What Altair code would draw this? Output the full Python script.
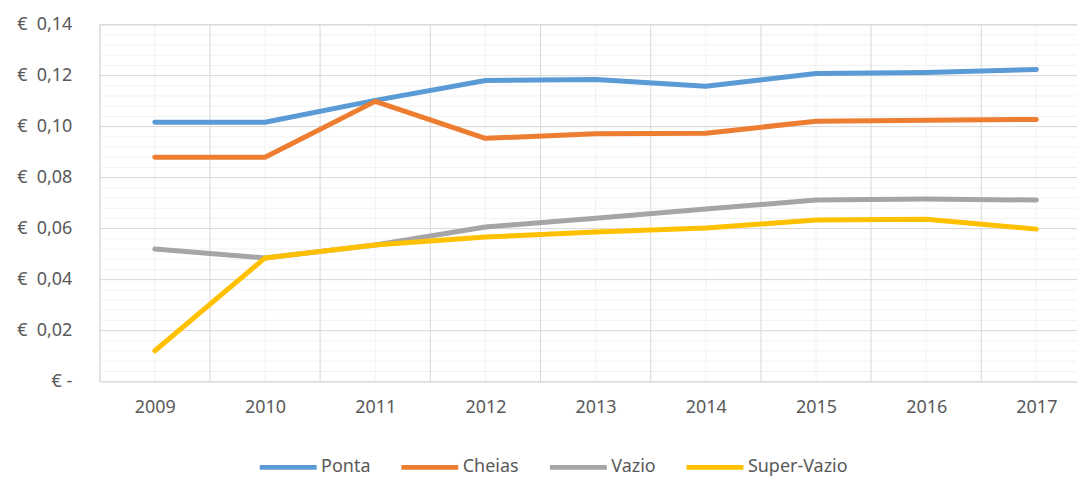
import altair as alt
import pandas as pd

years = [2009, 2010, 2011, 2012, 2013, 2014, 2015, 2016, 2017]
series_names = ["Ponta", "Cheias", "Vazio", "Super-Vazio"]
ponta = [0.1017, 0.1017, 0.1103, 0.1181, 0.1185, 0.1158, 0.1208, 0.1212, 0.1224]
cheias = [0.0880, 0.0880, 0.1099, 0.0954, 0.0972, 0.0974, 0.1021, 0.1025, 0.1028]
vazio = [0.0520, 0.0485, 0.0536, 0.0606, 0.0641, 0.0677, 0.0712, 0.0716, 0.0712]
super_vazio = [0.0121, 0.0485, 0.0536, 0.0567, 0.0587, 0.0602, 0.0634, 0.0637, 0.0598]
colors = ["#5B9BD5", "#ED7D31", "#A5A5A5", "#FFC000"]
y_ticks = [0.0, 0.02, 0.04, 0.06, 0.08, 0.10, 0.12, 0.14]

rows = []
for name, vals in zip(series_names, [ponta, cheias, vazio, super_vazio]):
    for yr, v in zip(years, vals):
        rows.append({"Ano": yr, "Preco": v, "Tarifa": name})
df = pd.DataFrame(rows)

W, H = 980, 358
step = 110.5
x_scale = alt.Scale(domain=[2008.5, 2008.5 + W / step], nice=False, zero=False)
y_scale = alt.Scale(domain=[0, 0.14], nice=False)

minor_y = pd.DataFrame({"v": [round(i * 0.004, 4) for i in range(0, 36)]})
major_y = pd.DataFrame({"v": y_ticks})
minor_x = pd.DataFrame({"v": years})
major_x = pd.DataFrame({"v": [y - 0.5 for y in years]})

FONT = "Noto Sans"
TXT = "#595959"

x_axis = alt.Axis(
    values=years, format="d", grid=False, ticks=False, domain=False,
    labelFontSize=18, labelFont=FONT, labelColor=TXT, labelPadding=17,
    labelOverlap=False, labelFlush=False, title=None)
y_axis = alt.Axis(
    values=y_ticks, grid=False, ticks=False, domain=False,
    labelExpr="datum.value == 0 ? '€ -\u00a0\u00a0' : '€\u00a0\u00a0' + replace(format(datum.value, '.2f'), '.', ',')",
    labelAlign="right", labelBaseline="middle", labelPadding=28,
    labelFontSize=18, labelFont=FONT, labelColor=TXT, title=None)

def hrule(d, color):
    return alt.Chart(d).mark_rule(color=color, strokeWidth=1).encode(
        y=alt.Y("v:Q", scale=y_scale, axis=y_axis))

def vrule(d, color):
    return alt.Chart(d).mark_rule(color=color, strokeWidth=1).encode(
        x=alt.X("v:Q", scale=x_scale, axis=x_axis))

lines = alt.Chart(df).mark_line(strokeWidth=5, strokeCap="round", strokeJoin="round").encode(
    x=alt.X("Ano:Q", scale=x_scale, axis=x_axis),
    y=alt.Y("Preco:Q", scale=y_scale, axis=y_axis),
    color=alt.Color("Tarifa:N", sort=series_names,
                    scale=alt.Scale(domain=series_names, range=colors),
                    legend=alt.Legend(title=None, orient="none", legendX=158, legendY=413,
                                      direction="horizontal", symbolType="stroke",
                                      symbolSize=3249, symbolStrokeWidth=5,
                                      labelFontSize=18, labelFont=FONT, labelColor=TXT,
                                      columnPadding=20, labelOffset=2)),
    order=alt.Order("Ano:Q"),
)

chart = alt.layer(
    hrule(minor_y, "#F2F2F2"),
    vrule(minor_x, "#F2F2F2"),
    hrule(major_y, "#D9D9D9"),
    vrule(major_x, "#D9D9D9"),
    lines,
).properties(
    width=W, height=H,
    autosize=alt.AutoSizeParams(type="none"),
    padding={"left": 92, "top": 16, "right": 0, "bottom": 97},
).configure_view(stroke=None).configure(background="white")

chart.save("out.html", embed_options={"renderer": "svg", "actions": False})
